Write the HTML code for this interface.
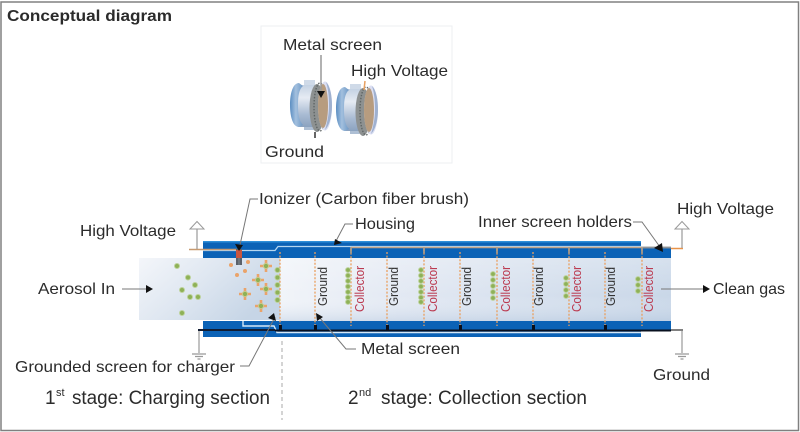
<!DOCTYPE html>
<html><head><meta charset="utf-8"><style>
html,body{margin:0;padding:0;background:#fff}
svg{display:block}
text{font-family:"Liberation Sans",sans-serif;fill:#2b2b2b;font-size:16px}
.g{font-size:13px;fill:#333}
.c{font-size:13px;fill:#bb3a50}
</style></head><body>
<svg width="800" height="432" viewBox="0 0 800 432" xmlns="http://www.w3.org/2000/svg">
<defs>
<linearGradient id="gas" x1="0" y1="0" x2="1" y2="0"><stop offset="0" stop-color="#f1f4f9"/><stop offset=".3" stop-color="#e3e9f3"/><stop offset="1" stop-color="#c9d7e8"/></linearGradient>
<linearGradient id="gasV" x1="0" y1="0" x2="0" y2="1"><stop offset="0" stop-color="#ffffff" stop-opacity=".25"/><stop offset=".6" stop-color="#ffffff" stop-opacity="0"/><stop offset="1" stop-color="#aac0da" stop-opacity=".35"/></linearGradient>
<linearGradient id="gasL" x1="0" y1="0" x2="1" y2="0.5"><stop offset="0" stop-color="#f4f6fa"/><stop offset=".5" stop-color="#dfe7f1"/><stop offset="1" stop-color="#c6d5e6"/></linearGradient>
<linearGradient id="ring" x1="0" y1="0" x2="0" y2="1"><stop offset="0" stop-color="#c4d2e3"/><stop offset=".3" stop-color="#e6ebf3"/><stop offset=".7" stop-color="#a9bbd3"/><stop offset="1" stop-color="#8ba2bf"/></linearGradient>
<linearGradient id="fl" x1="0" y1="0" x2="1" y2="0"><stop offset="0" stop-color="#5c8ec2"/><stop offset=".45" stop-color="#a3c0de"/><stop offset="1" stop-color="#6f99c6"/></linearGradient>
<g id="dev">
<path d="M14 0 H25 V6 H14Z" fill="#cfdae8"/>
<path d="M22 46 H14 V50 H24Z" fill="#aebfd4"/>
<path d="M8 5 H26 V47 H8 Z" fill="url(#ring)"/>
<path d="M9 3 C3 3 0 13 0 25 C0 37 3 47 9 47 L13 45 C9 41 8 34 8 25 C8 16 9 9 13 6 Z" fill="url(#fl)"/>
<ellipse cx="27" cy="28" rx="7.500" ry="24" fill="#8d9191"/>
<ellipse cx="30" cy="27" rx="6" ry="24" fill="none" stroke="#5f6565" stroke-width="1.400" stroke-dasharray="1.500 1.500"/>
<ellipse cx="35" cy="26" rx="7" ry="24.500" fill="#dcdff2"/>
<ellipse cx="33" cy="26" rx="5" ry="22" fill="#b79c7f"/>
<path d="M36 2 C40 6 42 15 42 26 C42 37 39 46 35 50 C38 40 39 33 39 25 C39 16 38 8 36 2Z" fill="#9fb1d0"/>
</g>
</defs>
<rect x="1" y="2" width="797.500" height="428.500" fill="#fff" stroke="#808080" stroke-width="1.500"/>

<text x="7" y="21" font-weight="bold" textLength="165" lengthAdjust="spacingAndGlyphs" fill="#111">Conceptual diagram</text>

<rect x="261" y="26" width="191" height="137" fill="#fff" stroke="#eceff2"/>
<use href="#dev" x="290" y="80"/>
<use href="#dev" x="336" y="84"/>
<line x1="321" y1="55" x2="321" y2="93" stroke="#999" stroke-width="1.500"/>
<path d="M317 91 L325 91 L321 98Z" fill="#111"/>
<line x1="315" y1="132" x2="315" y2="138" stroke="#333" stroke-width="1.500"/>
<line x1="365" y1="81" x2="364" y2="90" stroke="#e8a060" stroke-width="1.500"/>
<text x="283" y="50" textLength="99" lengthAdjust="spacingAndGlyphs">Metal screen</text>
<text x="351" y="76" textLength="97" lengthAdjust="spacingAndGlyphs">High Voltage</text>
<text x="265" y="157" textLength="59" lengthAdjust="spacingAndGlyphs">Ground</text>

<!-- gas body -->
<rect x="139" y="258" width="141" height="62" fill="url(#gasL)"/>
<rect x="280" y="258" width="391" height="63" fill="url(#gas)"/>
<rect x="280" y="258" width="391" height="63" fill="url(#gasV)"/>

<!-- housing -->
<rect x="203" y="241" width="438" height="17" fill="#0b62b6"/>
<rect x="641" y="248" width="30" height="10" fill="#0b62b6"/>
<rect x="203" y="321" width="438" height="16" fill="#0b62b6"/>
<rect x="641" y="321" width="30" height="9" fill="#0b62b6"/>
<rect x="203" y="241" width="438" height="1.500" fill="#2f8fd8"/>
<polyline points="203,250.500 275,250.500 278,246.500 641,246.500" fill="none" stroke="#b5d6f0" stroke-width="1.300"/>
<polyline points="243,321 243,326 274,326 277,332.500 641,332.500" fill="none" stroke="#d5e8f7" stroke-width="1.400"/>

<!-- HV lines -->
<line x1="189" y1="249.500" x2="237" y2="249.500" stroke="#c79a70" stroke-width="1.500"/>
<line x1="351" y1="247.500" x2="671" y2="247.500" stroke="#c2a388" stroke-width="1.600"/>
<line x1="641" y1="247.500" x2="671" y2="247.500" stroke="#8d9399" stroke-width="1.800"/>
<line x1="671" y1="248.500" x2="683" y2="248.500" stroke="#e8944a" stroke-width="1.500"/>
<line x1="197" y1="249" x2="197" y2="229" stroke="#999" stroke-width="1.200"/>
<path d="M190 229 L197 221.500 L204 229Z" fill="#fff" stroke="#999"/>
<line x1="682" y1="248" x2="682" y2="229" stroke="#999" stroke-width="1.200"/>
<path d="M675 229 L682 221.500 L689 229Z" fill="#fff" stroke="#999"/>

<!-- ground lines -->
<line x1="198" y1="330" x2="275" y2="330" stroke="#111d33" stroke-width="2"/>
<line x1="275" y1="330.500" x2="671" y2="330.500" stroke="#08101f" stroke-width="2"/>
<line x1="671" y1="330" x2="683" y2="330" stroke="#555" stroke-width="1.500"/>
<line x1="199" y1="331" x2="199" y2="353" stroke="#999" stroke-width="1.200"/>
<path d="M192 354 H206 M195 356.500 H203 M197.500 359 H200.500" stroke="#999" stroke-width="1.200"/>
<line x1="682" y1="331" x2="682" y2="353" stroke="#999" stroke-width="1.200"/>
<path d="M675 354 H689 M678 356.500 H686 M680.500 359 H683.500" stroke="#999" stroke-width="1.200"/>

<!-- ionizer -->
<rect x="236" y="249" width="6" height="16" fill="#5a616b"/>
<rect x="236" y="250" width="6" height="8" fill="#c8553f"/>
<line x1="239" y1="258" x2="239" y2="265" stroke="#9aa" stroke-width=".6"/>

<!-- screens -->
<g stroke="#ea9f5e" stroke-width="1.300" stroke-dasharray="2 1.600" fill="none">
<line x1="280" y1="252" x2="280" y2="329"/>
<line x1="315" y1="252" x2="315" y2="326"/>
<line x1="351" y1="249" x2="351" y2="326"/>
<line x1="387" y1="252" x2="387" y2="326"/>
<line x1="424" y1="249" x2="424" y2="326"/>
<line x1="460" y1="252" x2="460" y2="326"/>
<line x1="497" y1="249" x2="497" y2="326"/>
<line x1="533" y1="252" x2="533" y2="326"/>
<line x1="569" y1="249" x2="569" y2="326"/>
<line x1="605" y1="252" x2="605" y2="326"/>
<line x1="642" y1="249" x2="642" y2="326"/>
</g>
<g stroke="#b9a084" stroke-width="1.600">
<line x1="351" y1="247" x2="351" y2="253"/><line x1="424" y1="247" x2="424" y2="253"/><line x1="497" y1="247" x2="497" y2="253"/><line x1="569" y1="247" x2="569" y2="253"/><line x1="642" y1="247" x2="642" y2="253"/>
</g>
<g fill="#0a0f1a">
<rect x="279" y="325" width="3" height="6"/><rect x="314" y="325" width="3" height="6"/><rect x="386" y="325" width="3" height="6"/><rect x="459" y="325" width="3" height="6"/><rect x="532" y="325" width="3" height="6"/><rect x="604" y="325" width="3" height="6"/>
</g>

<!-- particles -->
<g fill="#8eb157" stroke="#bcd29b" stroke-width="1">
<circle cx="177" cy="266" r="2.500"/><circle cx="188" cy="277.500" r="2.500"/><circle cx="195" cy="285" r="2.500"/><circle cx="182" cy="290" r="2.500"/><circle cx="190" cy="297" r="2.500"/><circle cx="198" cy="297" r="2.500"/><circle cx="182" cy="313" r="2.500"/>
<circle cx="277.500" cy="270" r="2.500"/><circle cx="277.500" cy="277.500" r="2.500"/><circle cx="277.500" cy="285" r="2.500"/><circle cx="277.500" cy="292.500" r="2.500"/><circle cx="277.500" cy="300" r="2.500"/>
<circle cx="348" cy="270" r="2.400"/><circle cx="348" cy="275.500" r="2.400"/><circle cx="348" cy="281" r="2.400"/><circle cx="348" cy="286.500" r="2.400"/><circle cx="348" cy="292" r="2.400"/><circle cx="348" cy="297.500" r="2.400"/><circle cx="348" cy="302" r="2.400"/>
<circle cx="421" cy="270" r="2.400"/><circle cx="421" cy="275.500" r="2.400"/><circle cx="421" cy="281" r="2.400"/><circle cx="421" cy="286.500" r="2.400"/><circle cx="421" cy="292" r="2.400"/><circle cx="421" cy="297.500" r="2.400"/><circle cx="421" cy="302" r="2.400"/>
<circle cx="493" cy="274" r="2.400"/><circle cx="493" cy="280" r="2.400"/><circle cx="493" cy="286" r="2.400"/><circle cx="493" cy="292" r="2.400"/><circle cx="493" cy="298" r="2.400"/>
<circle cx="566" cy="278" r="2.400"/><circle cx="566" cy="284" r="2.400"/><circle cx="566" cy="290" r="2.400"/><circle cx="566" cy="296" r="2.400"/>
<circle cx="638" cy="279" r="2.400"/><circle cx="638" cy="285" r="2.400"/><circle cx="638" cy="291" r="2.400"/>
</g>
<g fill="#eaa36a">
<circle cx="231" cy="265" r="2"/><circle cx="248" cy="262" r="2"/><circle cx="245" cy="271" r="2"/><circle cx="237" cy="275" r="2"/>
</g>
<g stroke="#eaa36a" stroke-width="2.600" fill="#8eb157">
<path d="M266 260 V272 M260 266 H272"/><circle cx="266" cy="266" r="2.600" stroke="#c9c98a" stroke-width="1"/>
<path d="M258 274 V286 M252 280 H264"/><circle cx="258" cy="280" r="2.600" stroke="#c9c98a" stroke-width="1"/>
<path d="M266 283 V295 M260 289 H272"/><circle cx="266" cy="289" r="2.600" stroke="#c9c98a" stroke-width="1"/>
<path d="M245 288 V300 M239 294 H251"/><circle cx="245" cy="294" r="2.600" stroke="#c9c98a" stroke-width="1"/>
<path d="M261 300 V312 M255 306 H267"/><circle cx="261" cy="306" r="2.600" stroke="#c9c98a" stroke-width="1"/>
</g>

<!-- rotated labels -->
<text class="g" transform="translate(327,306) rotate(-90)" textLength="39" lengthAdjust="spacingAndGlyphs">Ground</text>
<text class="c" transform="translate(364,312) rotate(-90)" textLength="46" lengthAdjust="spacingAndGlyphs">Collector</text>
<text class="g" transform="translate(398,306) rotate(-90)" textLength="39" lengthAdjust="spacingAndGlyphs">Ground</text>
<text class="c" transform="translate(437,312) rotate(-90)" textLength="46" lengthAdjust="spacingAndGlyphs">Collector</text>
<text class="g" transform="translate(471,306) rotate(-90)" textLength="39" lengthAdjust="spacingAndGlyphs">Ground</text>
<text class="c" transform="translate(510,312) rotate(-90)" textLength="46" lengthAdjust="spacingAndGlyphs">Collector</text>
<text class="g" transform="translate(543,306) rotate(-90)" textLength="39" lengthAdjust="spacingAndGlyphs">Ground</text>
<text class="c" transform="translate(581,312) rotate(-90)" textLength="46" lengthAdjust="spacingAndGlyphs">Collector</text>
<text class="g" transform="translate(615,306) rotate(-90)" textLength="39" lengthAdjust="spacingAndGlyphs">Ground</text>
<text class="c" transform="translate(653,312) rotate(-90)" textLength="46" lengthAdjust="spacingAndGlyphs">Collector</text>

<!-- leaders -->
<g fill="none" stroke="#777" stroke-width="1">
<polyline points="258,199 250,199 240,245"/>
<polyline points="353,224 345,224 336,241"/>
<polyline points="633,222 642,222 660,247"/>
<polyline points="240,366 249,366 275,317"/>
<polyline points="356,349 346,349 319,317"/>
<line x1="122" y1="289" x2="148" y2="289"/>
<line x1="661" y1="289" x2="706" y2="289"/>
<line x1="282" y1="341" x2="282" y2="420" stroke="#aaa" stroke-dasharray="4 3"/>
</g>
<g fill="#111">
<path d="M235 244 L243 245 L239 251Z"/>
<path d="M334 245 L335 239 L342 243Z"/>
<path d="M654 248 L662 243 L663 252Z"/>
<path d="M274 313 L276 321 L268 318Z"/>
<path d="M316 313 L323 317 L317 321Z"/>
<path d="M146 285 L153 289 L146 293Z"/>
<path d="M703 285 L710 289 L703 293Z"/>
</g>

<!-- labels -->
<text x="259" y="204" textLength="210" lengthAdjust="spacingAndGlyphs">Ionizer (Carbon fiber brush)</text>
<text x="355" y="229" textLength="60" lengthAdjust="spacingAndGlyphs">Housing</text>
<text x="478" y="227" textLength="154" lengthAdjust="spacingAndGlyphs">Inner screen holders</text>
<text x="677" y="214" textLength="97" lengthAdjust="spacingAndGlyphs">High Voltage</text>
<text x="80" y="236" textLength="96" lengthAdjust="spacingAndGlyphs">High Voltage</text>
<text x="38" y="294" textLength="77" lengthAdjust="spacingAndGlyphs">Aerosol In</text>
<text x="713" y="294" textLength="72" lengthAdjust="spacingAndGlyphs">Clean gas</text>
<text x="15" y="372" textLength="220" lengthAdjust="spacingAndGlyphs">Grounded screen for charger</text>
<text x="361" y="354" textLength="99" lengthAdjust="spacingAndGlyphs">Metal screen</text>
<text x="653" y="380" textLength="57" lengthAdjust="spacingAndGlyphs">Ground</text>
<text x="45" y="404" style="font-size:19px">1</text>
<text x="56" y="396" style="font-size:11px">st</text>
<text x="72" y="404" style="font-size:19px" textLength="198" lengthAdjust="spacingAndGlyphs">stage: Charging section</text>
<text x="348" y="404" style="font-size:19px">2</text>
<text x="359" y="396" style="font-size:11px">nd</text>
<text x="381" y="404" style="font-size:19px" textLength="206" lengthAdjust="spacingAndGlyphs">stage: Collection section</text>
</svg>
</body></html>
